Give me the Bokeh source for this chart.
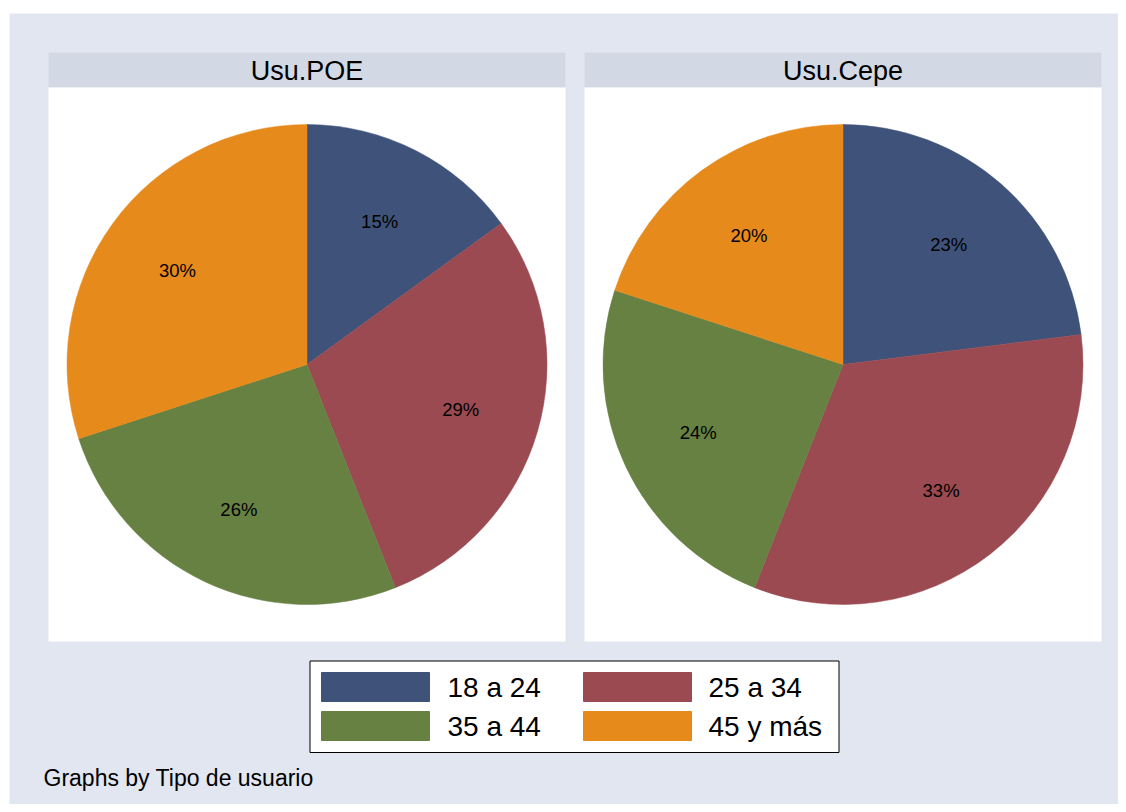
import math
from bokeh.plotting import figure
from bokeh.models import Range1d, BoxAnnotation, ColumnDataSource
from bokeh.core.properties import value
from bokeh.embed import file_html
from bokeh.resources import INLINE

# ---- data ----
groups = ["Usu.POE", "Usu.Cepe"]
categories = ["18 a 24", "25 a 34", "35 a 44", "45 y más"]
poe = [15, 29, 26, 30]
cepe = [23, 33, 24, 20]
note = "Graphs by Tipo de usuario"

colors = ["#3E527A", "#9A4A50", "#678143", "#E68A1B"]
BG = "#E1E6F0"
STRIP = "#D2D9E4"
FONT = "Liberation Sans"

W, H = 1118, 804
p = figure(width=W, height=H, output_backend="svg", toolbar_location=None,
           x_range=Range1d(0, W), y_range=Range1d(0, H),
           min_border=0, outline_line_color=None)
p.axis.visible = False
p.grid.visible = False
p.background_fill_color = "white"
p.border_fill_color = "white"

def Y(y):
    return H - y

# page background
p.add_layout(BoxAnnotation(left=9, right=W, bottom=0, top=Y(13),
                           fill_color=BG, fill_alpha=1, line_color=None, level="underlay"))

panels = [(48, 565), (584, 1101)]
series = [poe, cepe]
for (x0, x1), name, vals in zip(panels, groups, series):
    p.quad(left=[x0], right=[x1], bottom=[Y(87)], top=[Y(52)], fill_color=STRIP, line_color=None)
    p.quad(left=[x0], right=[x1], bottom=[Y(641)], top=[Y(87)], fill_color="white", line_color=None)
    cx = (x0 + x1) / 2
    p.text(x=[cx], y=[Y(70)], text=[name], text_align="center", text_baseline="middle",
           text_font=value(FONT), text_font_size="27px", text_color="black")
    cy = Y(364)
    r = 240
    total = sum(vals)
    starts, ends, lx, ly, labs = [], [], [], [], []
    cum = 0
    for v in vals:
        a0 = math.pi / 2 - 2 * math.pi * cum / total
        cum += v
        a1 = math.pi / 2 - 2 * math.pi * cum / total
        starts.append(a0)
        ends.append(a1)
        mid = (a0 + a1) / 2
        lx.append(cx + r * 2 / 3 * math.cos(mid))
        ly.append(cy + r * 2 / 3 * math.sin(mid))
        labs.append(f"{v}%")
    src = ColumnDataSource(dict(start=starts, end=ends, color=colors))
    p.wedge(x=cx, y=cy, radius=r, start_angle="start", end_angle="end",
            direction="clock", fill_color="color", line_color="color", line_width=0.5, source=src)
    p.text(x=lx, y=ly, text=labs, text_align="center", text_baseline="middle",
           text_font=value(FONT), text_font_size="18.5px", text_color="black")

# legend
p.quad(left=[309.5], right=[838.5], bottom=[Y(752)], top=[Y(660.5)],
       fill_color="white", line_color="black", line_width=1)
sw_x = [321, 583, 321, 583]
sw_y = [672, 672, 711, 711]
tx = [447, 708, 447, 708]
p.quad(left=sw_x, right=[x + 108 for x in sw_x], top=[Y(y) for y in sw_y],
       bottom=[Y(y + 29) for y in sw_y], fill_color=colors, line_color=colors, line_width=1)
p.text(x=tx, y=[Y(y + 15) for y in sw_y], text=categories, text_align="left",
       text_baseline="middle", text_font=value(FONT), text_font_size="28px", text_color="black")

# note
p.text(x=[43], y=[Y(777)], text=[note], text_align="left", text_baseline="middle",
       text_font=value(FONT), text_font_size="23px", text_color="black")

open("out.html", "w").write(file_html(p, INLINE))
